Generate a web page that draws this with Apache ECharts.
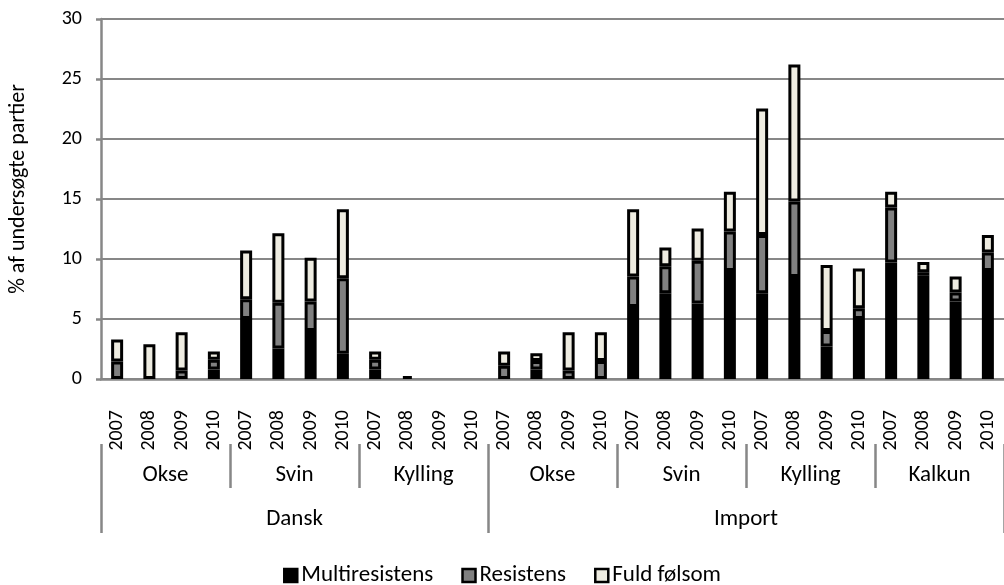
<!DOCTYPE html>
<html>
<head>
<meta charset="utf-8">
<script src="https://cdn.jsdelivr.net/npm/echarts@6/dist/echarts.min.js"></script>
<style>
  html, body { margin: 0; padding: 0; background: #fff; }
  #chart { width: 1004px; height: 585px; }
</style>
</head>
<body>
<div id="chart"></div>
<script>
// Year / product / origin levels of the category axis
const years = ['2007', '2008', '2009', '2010'];
const products = ['Okse', 'Svin', 'Kylling', 'Okse', 'Svin', 'Kylling', 'Kalkun'];
const origins = ['Dansk', 'Import'];
const originSpans = [12, 16]; // number of year slots under each origin

// Share of tested batches (%) per slot, Dansk then Import
const multiresistens = [0, 0, 0, 0.8, 5.0, 2.55, 4.0, 2.1, 0.8, 0.25, 0, 0,
                        0, 0.8, 0, 0, 6.0, 7.15, 6.3, 9.0, 7.15, 8.5, 2.7, 5.0, 9.7, 8.6, 6.45, 9.0];
const resistens = [1.45, 0, 0.7, 0.8, 1.65, 3.8, 2.45, 6.3, 0.8, 0, 0, 0,
                   1.1, 0.7, 0.7, 1.5, 2.55, 2.25, 3.55, 3.3, 4.85, 6.3, 1.3, 0.9, 4.6, 0.3, 0.75, 1.55];
const fuldFoelsom = [1.85, 2.9, 3.2, 0.7, 4.05, 5.8, 3.65, 5.75, 0.7, 0, 0, 0,
                     1.2, 0.65, 3.2, 2.4, 5.6, 1.55, 2.7, 3.3, 10.55, 11.4, 5.5, 3.3, 1.3, 0.85, 1.35, 1.45];

const yTicks = [0, 5, 10, 15, 20, 25, 30];

const FONT = 'Carlito, Lato, sans-serif';
const FS_NUM = 20;   // numeric labels
const FS_TXT = 23;   // word labels
const GRAY = '#878787';

const categories = [];
products.forEach(() => years.forEach(y => categories.push(y)));
const nSlots = categories.length;

// group boundaries / centres on a 0..nSlots value scale
const productBounds = products.map((_, i) => i * 4).concat([nSlots]);
const productCentres = products.map((_, i) => i * 4 + 2);
const originBounds = [0];
originSpans.forEach(s => originBounds.push(originBounds[originBounds.length - 1] + s));
const originCentres = originSpans.map((s, i) => originBounds[i] + s / 2);

const toBar = arr => arr.map(v => (v === 0 ? '-' : v));

function barSeries(name, data, color) {
  return {
    name: name,
    type: 'bar',
    stack: 'total',
    barWidth: 12,
    data: toBar(data),
    itemStyle: { color: color, borderColor: '#000', borderWidth: 3 },
    emphasis: { disabled: true }
  };
}

const chart = echarts.init(document.getElementById('chart'), null, { renderer: 'canvas' });

chart.setOption({
  animation: false,
  textStyle: { fontFamily: FONT, color: '#000' },
  grid: { left: 101, top: 19, width: 910, height: 360, containLabel: false },
  legend: {
    top: 559,
    left: 'center',
    itemWidth: 13,
    itemHeight: 13,
    itemGap: 28,
    icon: 'rect',
    itemStyle: { borderColor: '#000', borderWidth: 2.5 },
    textStyle: { fontFamily: FONT, fontSize: FS_TXT, color: '#000', padding: [0, 0, 0, -1] },
    data: ['Multiresistens', 'Resistens', 'Fuld følsom']
  },
  graphic: [{
    type: 'text',
    x: 18,
    y: 189,
    rotation: Math.PI / 2,
    style: {
      text: '% af undersøgte partier',
      font: `22px ${FONT}`,
      fill: '#000',
      align: 'center',
      verticalAlign: 'middle'
    }
  }],
  xAxis: [
    {
      type: 'category',
      data: categories,
      position: 'bottom',
      axisLine: { lineStyle: { color: GRAY, width: 2.5 } },
      axisTick: { interval: 0, length: 65, lineStyle: { color: GRAY, width: 2.5 } },
      axisLabel: { interval: 0, rotate: 90, margin: 31, fontSize: FS_NUM, fontFamily: FONT, color: '#000' },
      splitLine: { show: false }
    },
    {
      type: 'value',
      min: 0,
      max: nSlots,
      position: 'bottom',
      offset: 65,
      axisLine: { show: false },
      splitLine: { show: false },
      axisTick: { show: true, length: 44, customValues: productBounds, lineStyle: { color: GRAY, width: 2.5 } },
      axisLabel: {
        show: true, margin: 20, fontSize: FS_TXT, fontFamily: FONT, color: '#000',
        customValues: productCentres,
        formatter: v => products[(v - 2) / 4]
      }
    },
    {
      type: 'value',
      min: 0,
      max: nSlots,
      position: 'bottom',
      offset: 109,
      axisLine: { show: false },
      splitLine: { show: false },
      axisTick: { show: true, length: 45, customValues: originBounds, lineStyle: { color: GRAY, width: 2.5 } },
      axisLabel: {
        show: true, margin: 20, fontSize: FS_TXT, fontFamily: FONT, color: '#000',
        customValues: originCentres,
        formatter: v => origins[originCentres.indexOf(v)]
      }
    }
  ],
  yAxis: {
    type: 'value',
    min: yTicks[0],
    max: yTicks[yTicks.length - 1],
    interval: 5,
    axisLine: { show: true, lineStyle: { color: GRAY, width: 2.5 } },
    axisTick: { show: true, length: 5, lineStyle: { color: GRAY, width: 2.5 } },
    axisLabel: { margin: 19, fontSize: FS_NUM, fontFamily: FONT, color: '#000' },
    splitLine: { lineStyle: { color: GRAY, width: 2 } }
  },
  series: [
    barSeries('Multiresistens', multiresistens, '#000000'),
    barSeries('Resistens', resistens, '#808080'),
    barSeries('Fuld følsom', fuldFoelsom, '#EEECE1')
  ]
});
</script>
</body>
</html>
